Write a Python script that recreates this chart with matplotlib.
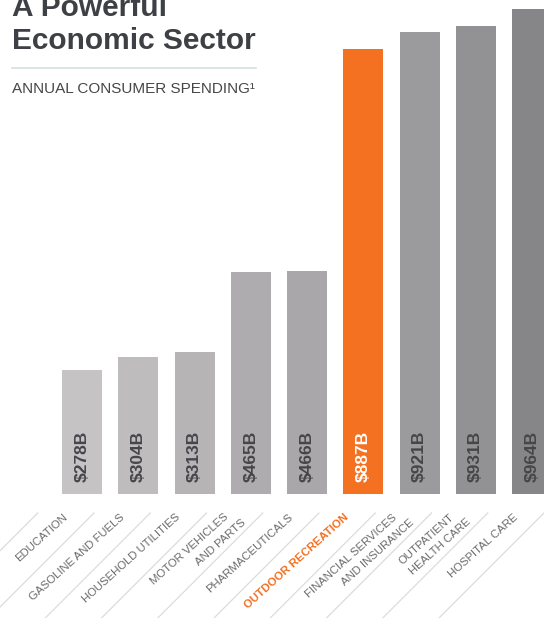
import matplotlib
matplotlib.use("Agg")
import matplotlib.pyplot as plt
from matplotlib.lines import Line2D

# ---------------- data ----------------
categories = [
    ["EDUCATION"],
    ["GASOLINE AND FUELS"],
    ["HOUSEHOLD UTILITIES"],
    ["MOTOR VEHICLES", "AND PARTS"],
    ["PHARMACEUTICALS"],
    ["OUTDOOR RECREATION"],
    ["FINANCIAL SERVICES", "AND INSURANCE"],
    ["OUTPATIENT", "HEALTH CARE"],
    ["HOSPITAL CARE"],
]
values = [278, 304, 313, 465, 466, 887, 921, 931, 964]
highlight_index = 5

title_lines = ["A Powerful", "Economic Sector"]
subtitle = "ANNUAL CONSUMER SPENDING\u00b9"

# ---------------- style ----------------
bar_colors = ["#c5c3c4", "#bebcbd", "#b6b4b5", "#aeacae", "#a9a7a9",
              "#f47122", "#9b9a9d", "#929194", "#868588"]
orange = "#f26f21"
label_dark = "#45454a"
cat_color = "#6a6a6a"
title_color = "#3f4045"
FONT = "Liberation Sans"
plt.rcParams["font.family"] = [FONT, "DejaVu Sans"]

W, H, DPI = 544, 618, 100
fig = plt.figure(figsize=(W / DPI, H / DPI), dpi=DPI)
fig.patch.set_facecolor("white")

axes_bottom_px = 494  # from top
ax = fig.add_axes([0, (H - axes_bottom_px) / H, 1, axes_bottom_px / H])
pitch = 56.25
first_center = 82
ax.set_xlim(-first_center / pitch, (W - first_center) / pitch)
y0 = 43.5
k = 0.527
ax.set_ylim(y0, y0 + axes_bottom_px / k)
ax.axis("off")

x = list(range(len(values)))
ax.bar(x, values, width=40 / pitch, color=bar_colors, edgecolor="none")

# value labels inside bars
for i, v in enumerate(values):
    ax.annotate(f"${v}B", xy=(i, 0), xycoords=("data", "axes fraction"),
                xytext=(0, 12), textcoords="offset pixels",
                rotation=90, ha="center", va="bottom",
                fontsize=12.5, fontweight="bold",
                color="white" if i == highlight_index else label_dark)

# category labels (rotated)
ROT = 42
for i, lines in enumerate(categories):
    col = orange if i == highlight_index else cat_color
    wt = "bold" if i == highlight_index else "normal"
    if len(lines) == 1:
        offs = [(-19, -18)]
    else:
        offs = [(-27, -18), (-10, -23)]
    for line, (dx, dy) in zip(lines, offs):
        ax.annotate(line, xy=(i, 0), xycoords=("data", "axes fraction"),
                    xytext=(dx, dy), textcoords="offset pixels",
                    rotation=ROT, rotation_mode="anchor",
                    ha="right", va="top", fontsize=8.2, color=col,
                    fontweight=wt, annotation_clip=False)

# separator diagonal lines
inv = fig.transFigure.inverted()
for i in range(-1, len(values)):
    xt, _ = ax.transData.transform((i + 12 / pitch, y0))
    yt = H - 513
    length = 115
    x1, y1 = xt - length, yt - length
    p0 = inv.transform((xt, yt))
    p1 = inv.transform((x1, y1))
    fig.add_artist(Line2D([p0[0], p1[0]], [p0[1], p1[1]],
                          transform=fig.transFigure, color="#dcdcdc", lw=0.9))

# title block
fig.text(12 / W, 1 - 16 / H, title_lines[0], fontsize=21.5, fontweight="bold",
         color=title_color, ha="left", va="baseline")
fig.text(12 / W, 1 - 49 / H, title_lines[1], fontsize=21.5, fontweight="bold",
         color=title_color, ha="left", va="baseline")
fig.add_artist(Line2D([12 / W, 256 / W], [1 - 68 / H, 1 - 68 / H],
                      transform=fig.transFigure, color="#d3e2e2", lw=1.2))
fig.text(12 / W, 1 - 93 / H, subtitle, fontsize=11, color="#464646",
         ha="left", va="baseline")

fig.savefig("out.png", dpi=DPI, facecolor="white")
